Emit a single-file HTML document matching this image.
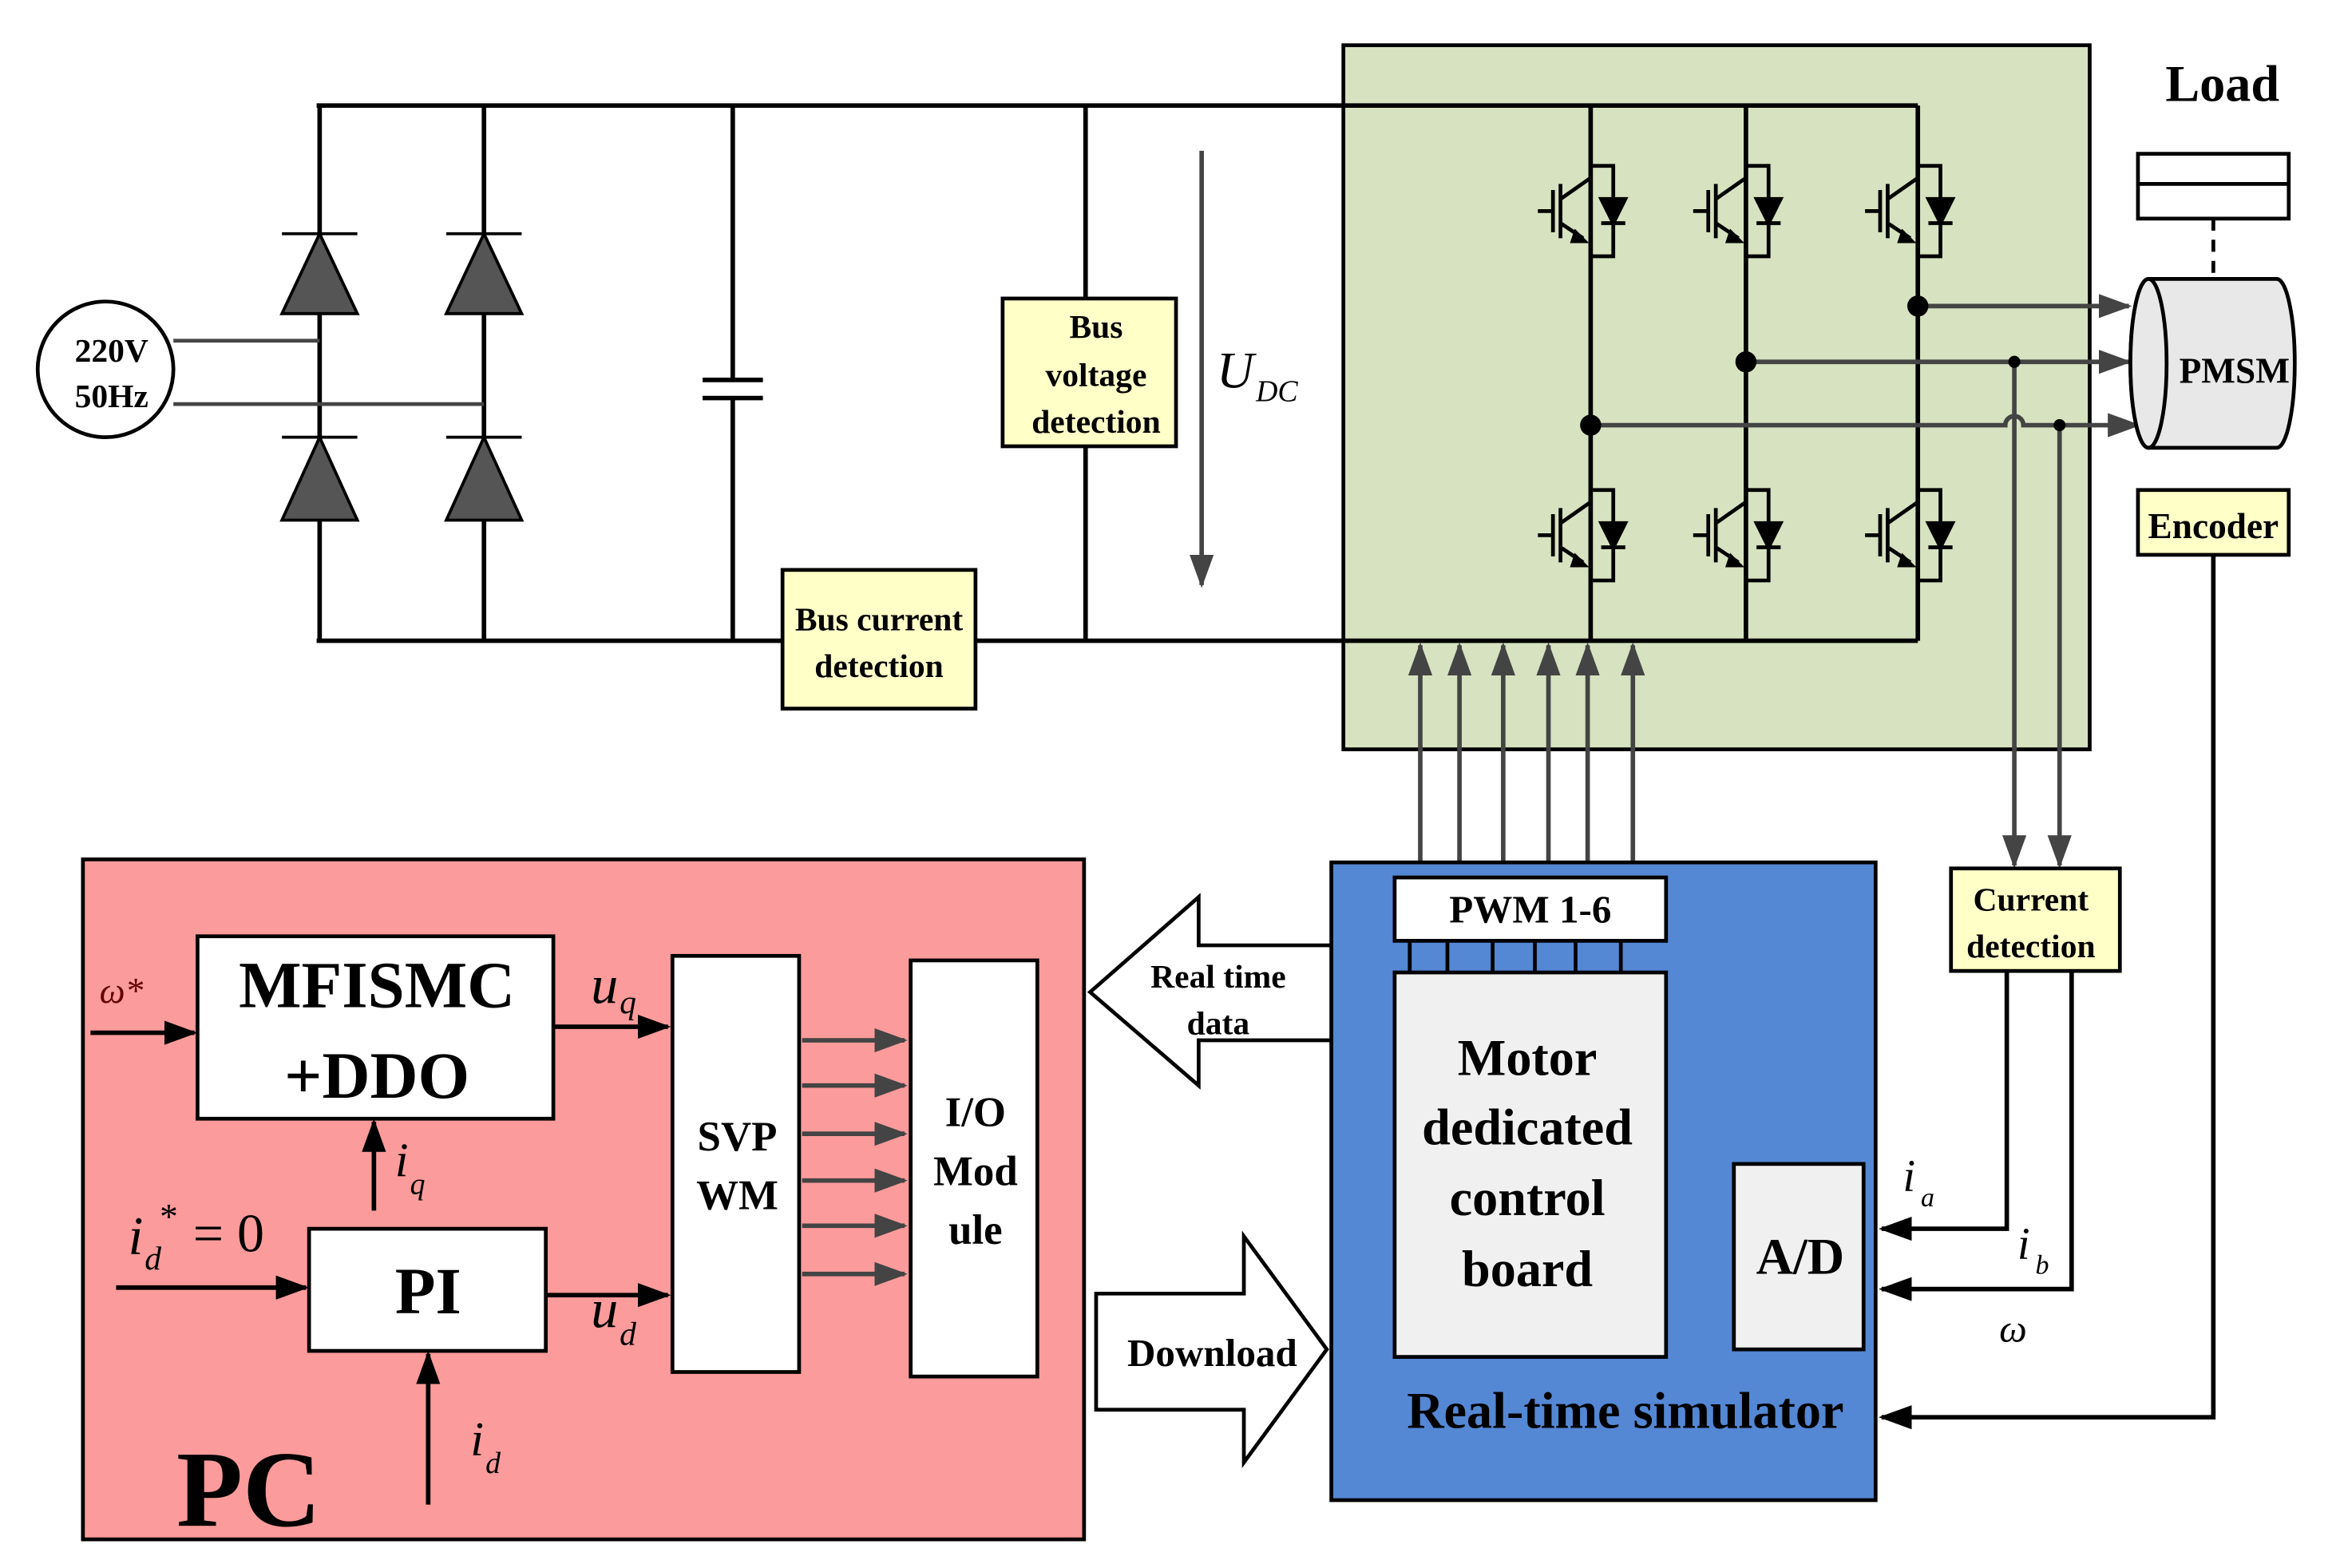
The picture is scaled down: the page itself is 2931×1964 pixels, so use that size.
<!DOCTYPE html>
<html><head><meta charset="utf-8"><style>
html,body{margin:0;padding:0;background:#fff;}
svg{display:block;}
text{font-family:"Liberation Serif",serif;}
.b{font-weight:bold;}
.i{font-style:italic;font-weight:normal;}
.n{font-weight:normal;}
</style></head><body>
<svg width="2931" height="1964" viewBox="0 0 1552 1040" preserveAspectRatio="none" xmlns="http://www.w3.org/2000/svg">
<defs>
<marker id="ag" markerWidth="22" markerHeight="16" refX="20" refY="8" orient="auto" markerUnits="userSpaceOnUse"><path d="M0,0 L22,8 L0,16 Z" fill="#444"/></marker>
<marker id="ak" markerWidth="22" markerHeight="16" refX="20" refY="8" orient="auto" markerUnits="userSpaceOnUse"><path d="M0,0 L22,8 L0,16 Z" fill="#000"/></marker>
<g id="igbt" stroke="#000" stroke-width="2.5" fill="none">
<path d="M-35,0 L-25,0 M-25,-14 L-25,14 M-20,-18 L-20,18 M-20,-8 L0,-22 M-20,8 L-5,18 M0,-22 L0,-40 M0,22 L0,40 M0,-30 L15,-30 L15,30 L0,30"/>
<path d="M7,-8 L23,-8 L15,8 Z" fill="#000"/><path d="M7,8 L23,8" />
<path d="M-10,14 L-4,20 L-12,20 Z" fill="#000"/>
</g>
</defs>
<rect width="1552" height="1040" fill="#fff"/>
<rect x="891" y="30" width="495" height="467" fill="#d6e2c0" stroke="#000" stroke-width="2.5"/>
<g stroke="#000" stroke-width="3" fill="none">
<path d="M210,70 L1272,70 M210,425 L1272,425"/>
<path d="M212,70 L212,425 M321,70 L321,425"/>
<path d="M486,70 L486,252 M466,252 L506,252 M466,264 L506,264 M486,264 L486,425"/>
<path d="M720,70 L720,425"/>
<path d="M1055,70 L1055,425 M1158,70 L1158,425 M1272,70 L1272,425"/>
</g>
<g fill="#555" stroke="#000" stroke-width="2">
<path d="M187,208 L237,208 L212,155 Z"/><path d="M187,155 L237,155" />
<path d="M296,208 L346,208 L321,155 Z"/><path d="M296,155 L346,155" />
<path d="M187,345 L237,345 L212,290 Z"/><path d="M187,290 L237,290" />
<path d="M296,345 L346,345 L321,290 Z"/><path d="M296,290 L346,290" />
</g>
<circle cx="70" cy="245" r="45" fill="#fff" stroke="#000" stroke-width="2.5"/>
<text class="b" x="74" y="240" font-size="22" text-anchor="middle">220V</text>
<text class="b" x="74" y="270" font-size="22" text-anchor="middle">50Hz</text>
<path d="M115,226 L212,226 M115,268 L321,268" stroke="#444" stroke-width="2.5"/>
<rect x="665" y="198" width="115" height="98" fill="#ffffc8" stroke="#000" stroke-width="2.5"/>
<text class="b" x="727" y="224" font-size="22" text-anchor="middle">Bus</text>
<text class="b" x="727" y="256" font-size="22" text-anchor="middle">voltage</text>
<text class="b" x="727" y="287" font-size="22" text-anchor="middle">detection</text>
<rect x="519" y="378" width="128" height="92" fill="#ffffc8" stroke="#000" stroke-width="2.5"/>
<text class="b" x="583" y="418" font-size="22" text-anchor="middle">Bus current</text>
<text class="b" x="583" y="449" font-size="22" text-anchor="middle">detection</text>
<path d="M797,100 L797,388" stroke="#444" stroke-width="3" marker-end="url(#ag)"/>
<text class="i" x="807" y="257" font-size="34">U</text>
<text class="i" x="833" y="266" font-size="20">DC</text>
<use href="#igbt" x="1055" y="140"/><use href="#igbt" x="1158" y="140"/><use href="#igbt" x="1272" y="140"/>
<use href="#igbt" x="1055" y="355"/><use href="#igbt" x="1158" y="355"/><use href="#igbt" x="1272" y="355"/>
<g stroke="#444" stroke-width="3" fill="none">
<path d="M1272,203 L1412,203" marker-end="url(#ag)"/>
<path d="M1158,240 L1412,240" marker-end="url(#ag)"/>
<path d="M1055,282 L1330,282 A6,6 0 0 1 1342,282 L1418,282" marker-end="url(#ag)"/>
<path d="M1336,240 L1336,574" marker-end="url(#ag)"/>
<path d="M1366,282 L1366,574" marker-end="url(#ag)"/>
</g>
<circle cx="1272" cy="203" r="7"/><circle cx="1158" cy="240" r="7"/><circle cx="1055" cy="282" r="7"/>
<circle cx="1336" cy="240" r="4"/><circle cx="1366" cy="282" r="4"/>
<text class="b" x="1474" y="67" font-size="34" text-anchor="middle">Load</text>
<rect x="1418" y="102" width="100" height="43" fill="#fff" stroke="#000" stroke-width="2.5"/>
<path d="M1418,122 L1518,122" stroke="#000" stroke-width="2.5"/>
<path d="M1468,145 L1468,185" stroke="#000" stroke-width="2.5" stroke-dasharray="8,6"/>
<path d="M1425,185 L1510,185 A12,56 0 0 1 1510,297 L1425,297 A12,56 0 0 1 1425,185 Z" fill="#e8e8e8" stroke="#000" stroke-width="2.5"/>
<ellipse cx="1425" cy="241" rx="12" ry="56" fill="#e8e8e8" stroke="#000" stroke-width="2.5"/>
<text class="b" x="1482" y="254" font-size="24" text-anchor="middle">PMSM</text>
<rect x="1418" y="325" width="100" height="43" fill="#ffffc8" stroke="#000" stroke-width="2.5"/>
<text class="b" x="1468" y="357" font-size="24" text-anchor="middle">Encoder</text>
<g stroke="#444" stroke-width="3">
<path d="M942,582 L942,428" marker-end="url(#ag)"/><path d="M968,582 L968,428" marker-end="url(#ag)"/>
<path d="M997,582 L997,428" marker-end="url(#ag)"/><path d="M1027,582 L1027,428" marker-end="url(#ag)"/>
<path d="M1053,582 L1053,428" marker-end="url(#ag)"/><path d="M1083,582 L1083,428" marker-end="url(#ag)"/>
</g>
<rect x="883" y="572" width="361" height="423" fill="#5487d4" stroke="#000" stroke-width="2.5"/>
<rect x="925" y="582" width="180" height="42" fill="#fff" stroke="#000" stroke-width="2.5"/>
<text class="b" x="1015" y="612" font-size="26" text-anchor="middle">PWM 1-6</text>
<g stroke="#000" stroke-width="2.5"><path d="M935,624 V645 M960,624 V645 M990,624 V645 M1018,624 V645 M1045,624 V645 M1075,624 V645"/></g>
<rect x="925" y="645" width="180" height="255" fill="#f0f0f0" stroke="#000" stroke-width="2.5"/>
<text class="b" x="1013" y="713" font-size="34" text-anchor="middle">Motor</text>
<text class="b" x="1013" y="759" font-size="34" text-anchor="middle">dedicated</text>
<text class="b" x="1013" y="806" font-size="34" text-anchor="middle">control</text>
<text class="b" x="1013" y="853" font-size="34" text-anchor="middle">board</text>
<rect x="1150" y="772" width="86" height="123" fill="#f0f0f0" stroke="#000" stroke-width="2.5"/>
<text class="b" x="1194" y="845" font-size="34" text-anchor="middle">A/D</text>
<text class="b" x="1078" y="947" font-size="34" text-anchor="middle">Real-time simulator</text>
<rect x="1294" y="576" width="112" height="68" fill="#ffffc8" stroke="#000" stroke-width="2.5"/>
<text class="b" x="1347" y="604" font-size="22" text-anchor="middle">Current</text>
<text class="b" x="1347" y="635" font-size="22" text-anchor="middle">detection</text>
<g stroke="#000" stroke-width="3" fill="none">
<path d="M1331,644 L1331,815 L1248,815" marker-end="url(#ak)"/>
<path d="M1374,644 L1374,855 L1248,855" marker-end="url(#ak)"/>
<path d="M1468,368 L1468,940 L1248,940" marker-end="url(#ak)"/>
</g>
<text class="i" x="1262" y="790" font-size="30">i</text><text class="i" x="1274" y="800" font-size="18">a</text>
<text class="i" x="1338" y="835" font-size="30">i</text><text class="i" x="1350" y="845" font-size="18">b</text>
<text class="i" x="1326" y="890" font-size="26">ω</text>
<path d="M723,658 L795,595 L795,627 L883,627 L883,690 L795,690 L795,720 Z" fill="#fff" stroke="#000" stroke-width="2.5"/>
<text class="b" x="808" y="655" font-size="22" text-anchor="middle">Real time</text>
<text class="b" x="808" y="686" font-size="22" text-anchor="middle">data</text>
<path d="M727,858 L825,858 L825,820 L880,895 L825,970 L825,935 L727,935 Z" fill="#fff" stroke="#000" stroke-width="2.5"/>
<text class="b" x="804" y="906" font-size="26" text-anchor="middle">Download</text>
<rect x="55" y="570" width="664" height="451" fill="#fc9b9b" stroke="#000" stroke-width="2.5"/>
<rect x="131" y="621" width="236" height="121" fill="#fff" stroke="#000" stroke-width="2.5"/>
<text class="b" x="250" y="668" font-size="44" text-anchor="middle">MFISMC</text>
<text class="b" x="250" y="728" font-size="44" text-anchor="middle">+DDO</text>
<rect x="205" y="815" width="157" height="81" fill="#fff" stroke="#000" stroke-width="2.5"/>
<text class="b" x="284" y="871" font-size="44" text-anchor="middle">PI</text>
<rect x="446" y="634" width="84" height="276" fill="#fff" stroke="#000" stroke-width="2.5"/>
<text class="b" x="489" y="763" font-size="28" text-anchor="middle">SVP</text>
<text class="b" x="489" y="802" font-size="28" text-anchor="middle">WM</text>
<rect x="604" y="637" width="84" height="276" fill="#fff" stroke="#000" stroke-width="2.5"/>
<text class="b" x="647" y="747" font-size="28" text-anchor="middle">I/O</text>
<text class="b" x="647" y="786" font-size="28" text-anchor="middle">Mod</text>
<text class="b" x="647" y="825" font-size="28" text-anchor="middle">ule</text>
<g stroke="#444" stroke-width="3">
<path d="M532,690 L600,690" marker-end="url(#ag)"/><path d="M532,720 L600,720" marker-end="url(#ag)"/>
<path d="M532,752 L600,752" marker-end="url(#ag)"/><path d="M532,783 L600,783" marker-end="url(#ag)"/>
<path d="M532,813 L600,813" marker-end="url(#ag)"/><path d="M532,845 L600,845" marker-end="url(#ag)"/>
</g>
<g stroke="#000" stroke-width="3">
<path d="M60,685 L129,685" marker-end="url(#ak)"/>
<path d="M367,681 L443,681" marker-end="url(#ak)"/>
<path d="M248,803 L248,744" marker-end="url(#ak)"/>
<path d="M77,854 L203,854" marker-end="url(#ak)"/>
<path d="M362,859 L443,859" marker-end="url(#ak)"/>
<path d="M284,998 L284,898" marker-end="url(#ak)"/>
</g>
<text class="i" x="66" y="665" font-size="24" fill="#600">ω*</text>
<text class="i" x="392" y="665" font-size="36">u</text><text class="i" x="411" y="672" font-size="22">q</text>
<text class="i" x="262" y="780" font-size="32">i</text><text class="i" x="272" y="792" font-size="20">q</text>
<text class="i" x="85" y="832" font-size="36">i</text><text class="i" x="96" y="842" font-size="22">d</text>
<text class="n" x="106" y="815" font-size="24">*</text><text class="n" x="128" y="830" font-size="36">= 0</text>
<text class="i" x="392" y="880" font-size="36">u</text><text class="i" x="411" y="892" font-size="22">d</text>
<text class="i" x="312" y="965" font-size="32">i</text><text class="i" x="322" y="977" font-size="20">d</text>
<text class="b" x="165" y="1012" font-size="72" text-anchor="middle">PC</text>
</svg>
</body></html>
